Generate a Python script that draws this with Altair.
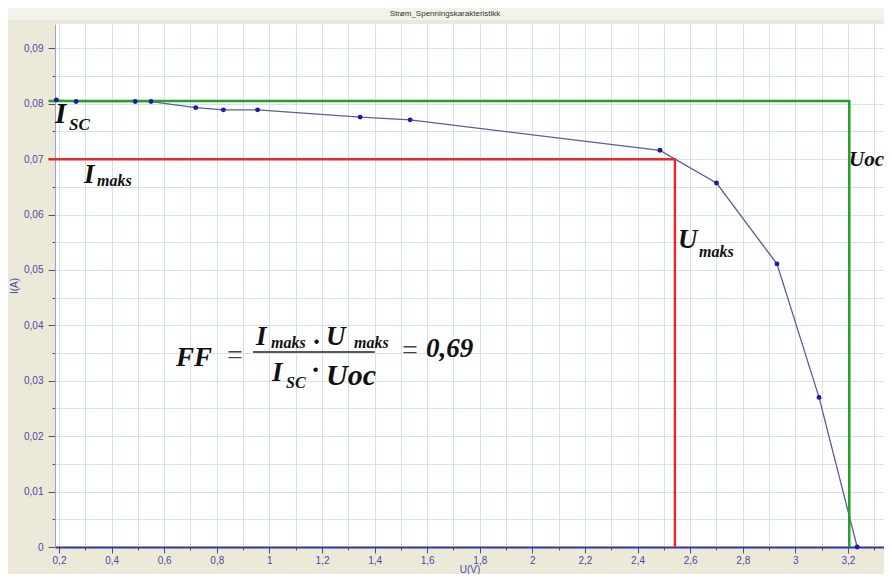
import altair as alt
import pandas as pd

# ---------------- data ----------------
chart_title = "Strøm_Spenningskarakteristikk"
x_title = "U(V)"
y_title = "I(A)"

U_vals = [0.19, 0.265, 0.49, 0.55, 0.72, 0.825, 0.955, 1.345, 1.535, 2.485, 2.70, 2.93, 3.09, 3.235]
I_vals = [0.0807, 0.0804, 0.0804, 0.0804, 0.0793, 0.0789, 0.0789, 0.0776, 0.0771, 0.0716, 0.0657, 0.0511, 0.027, 0.0]

I_sc = 0.0805
U_oc = 3.205
I_maks = 0.070
U_maks = 2.542
line_start = 0.16

x_ticks = [0.2, 0.3, 0.4, 0.5, 0.6, 0.7, 0.8, 0.9, 1.0, 1.1, 1.2, 1.3, 1.4, 1.5, 1.6, 1.7,
           1.8, 1.9, 2.0, 2.1, 2.2, 2.3, 2.4, 2.5, 2.6, 2.7, 2.8, 2.9, 3.0, 3.1, 3.2, 3.3]
y_ticks = [0.0, 0.005, 0.01, 0.015, 0.02, 0.025, 0.03, 0.035, 0.04, 0.045, 0.05, 0.055,
           0.06, 0.065, 0.07, 0.075, 0.08, 0.085, 0.09]
x_domain = [0.1848, 3.337]
y_domain = [0.0, 0.0944]

# annotation texts (bold italic) and their anchor points in data space
ann_text = ["I", "SC", "I", "maks", "U", "maks", "Uoc",
            "FF", "I", "maks", "·", "U", "maks",
            "I", "SC", "·", "Uoc", "0,69"]
ann_U = [0.1848, 0.2380, 0.2951, 0.3445, 2.5536, 2.6335, 3.2038,
         0.6449, 0.9490, 1.0061, 1.1658, 1.2152, 1.3217,
         1.0099, 1.0631, 1.1620, 1.2152, 1.5955]
ann_I = [0.07653, 0.07527, 0.06570, 0.06516, 0.05397, 0.05235, 0.06877,
         0.03267, 0.03646, 0.03592, 0.03538, 0.03646, 0.03592,
         0.02996, 0.02870, 0.03032, 0.02924, 0.03430]
ann_size = [29, 17, 27, 16, 27, 16, 21,
            27, 27, 16, 27, 27, 16,
            27, 16, 27, 30, 27]

eq_text = ["=", "="]
eq_U = [0.8388, 1.5042]
eq_I = [0.03303, 0.03394]

frac_U = [0.9376]
frac_U2 = [1.4004]
frac_I = [0.0352]

# ---------------- styling ----------------
BLUE_TXT = "#4a4aa0"
GRID = "#d3e3ea"
PLOT_W = 829
PLOT_H = 523

x_axis = alt.Axis(
    values=x_ticks,
    labelExpr="round(datum.value*10) % 2 == 0 ? replace(format(datum.value, '.1~f'), '.', ',') : ''",
    grid=True, gridColor=GRID, gridWidth=1,
    tickSize={"condition": {"test": "round(datum.value*10) % 2 == 0", "value": 6}, "value": 3},
    tickColor="#50507a", tickWidth=1,
    domainColor="#34349a", domainWidth=2,
    labelColor=BLUE_TXT, labelFont="Liberation Sans", labelFontSize=10, labelPadding=2,
    labelOverlap=False, labelFlush=False,
    titleColor=BLUE_TXT, titleFont="Liberation Sans", titleFontSize=10, titleFontWeight="normal",
    titleY=25, titleBaseline="alphabetic",
)
y_axis = alt.Axis(
    values=y_ticks,
    labelExpr="round(datum.value*1000) % 10 == 0 ? (datum.value == 0 ? '0' : replace(format(datum.value, '.2f'), '.', ',')) : ''",
    grid=True, gridColor=GRID, gridWidth=1,
    tickSize={"condition": {"test": "round(datum.value*1000) % 10 == 0", "value": 7}, "value": 3},
    tickColor="#50507a", tickWidth=1,
    domainColor="#9da2c4", domainWidth=1,
    labelColor=BLUE_TXT, labelFont="Liberation Sans", labelFontSize=10, labelPadding=5,
    labelOverlap=False, labelFlush=False,
    titleColor=BLUE_TXT, titleFont="Liberation Sans", titleFontSize=10, titleFontWeight="normal",
    titleX=-38, titleBaseline="alphabetic",
)

x_enc = alt.X("U:Q", scale=alt.Scale(domain=x_domain, nice=False, zero=False), axis=x_axis, title=x_title)
y_enc = alt.Y("I:Q", scale=alt.Scale(domain=y_domain, nice=False, zero=False), axis=y_axis, title=y_title)

curve_df = pd.DataFrame({"U": U_vals, "I": I_vals})
green_df = pd.DataFrame({"U": [line_start, U_oc, U_oc], "I": [I_sc, I_sc, 0.0], "o": [0, 1, 2]})
red_df = pd.DataFrame({"U": [line_start, U_maks, U_maks], "I": [I_maks, I_maks, 0.0], "o": [0, 1, 2]})
ann_df = pd.DataFrame({"U": ann_U, "I": ann_I, "txt": ann_text, "fs": ann_size})
eq_df = pd.DataFrame({"U": eq_U, "I": eq_I, "txt": eq_text})
frac_df = pd.DataFrame({"U": frac_U, "U2": frac_U2, "I": frac_I})
dummy = alt.Data(values=[{}])

band = alt.Chart(dummy).mark_rect(color="#f3f2ec").encode(
    x=alt.value(-47), x2=alt.value(PLOT_W), y=alt.value(-16), y2=alt.value(-4))
title = alt.Chart(dummy).mark_text(
    text=chart_title, font="Liberation Sans", fontSize=8, color="#333333",
    align="center", baseline="middle").encode(x=alt.value(390), y=alt.value(-10))

green = alt.Chart(green_df).mark_line(color="#22a02a", strokeWidth=2.5).encode(
    x=x_enc, y=y_enc, order="o:Q")
red = alt.Chart(red_df).mark_line(color="#e62a2a", strokeWidth=2.5).encode(
    x=x_enc, y=y_enc, order="o:Q")
curve_line = alt.Chart(curve_df).mark_line(color="#5c5ca0", strokeWidth=1.3).encode(x=x_enc, y=y_enc)
curve_pts = alt.Chart(curve_df).mark_point(filled=True, size=24, color="#1a1aa8", opacity=1).encode(
    x=x_enc, y=y_enc)

ann = alt.Chart(ann_df).mark_text(
    font="Liberation Serif", fontStyle="italic", fontWeight="bold", color="#111111",
    align="left", baseline="alphabetic").encode(
    x=x_enc, y=y_enc, text="txt:N", size=alt.Size("fs:Q", scale=None, legend=None))
eqs = alt.Chart(eq_df).mark_text(
    font="Liberation Serif", fontSize=28, color="#444444",
    align="left", baseline="alphabetic").encode(x=x_enc, y=y_enc, text="txt:N")
frac = alt.Chart(frac_df).mark_rule(color="#222222", strokeWidth=1.5).encode(
    x=x_enc, x2="U2:Q", y=y_enc)

chart = alt.layer(
    band, title, curve_line, green, red, curve_pts, frac, ann, eqs
).properties(
    width=PLOT_W, height=PLOT_H,
    autosize=alt.AutoSizeParams(type="none"),
    padding={"left": 47, "top": 16, "right": 0, "bottom": 27},
    background="#ECE9D8",
).configure_view(fill="white", strokeWidth=0)

chart.save("out.html", embed_options={"renderer": "svg", "actions": False})
